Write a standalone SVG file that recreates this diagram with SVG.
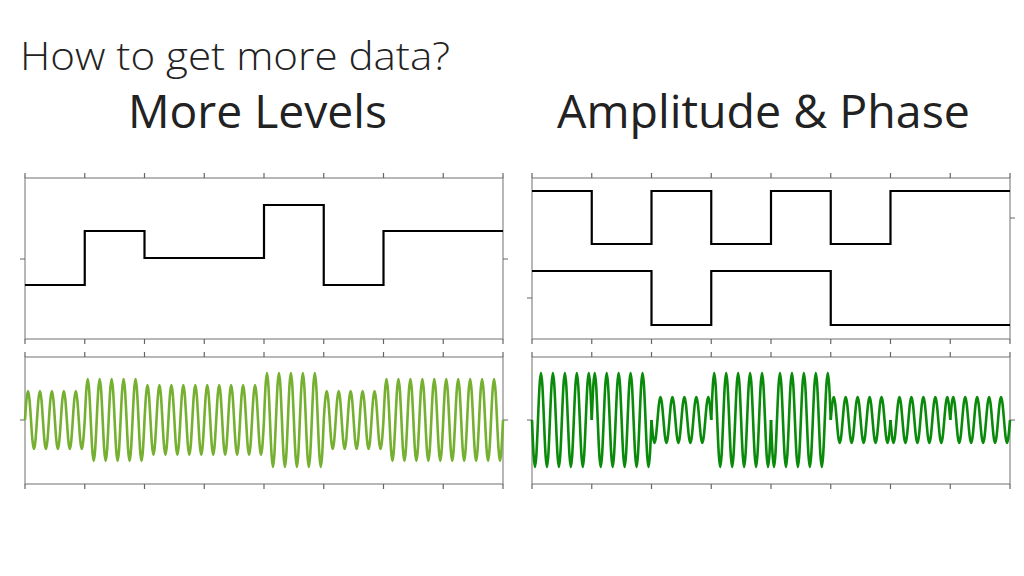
<svg xmlns="http://www.w3.org/2000/svg" xmlns:xlink="http://www.w3.org/1999/xlink" width="1024" height="576" viewBox="0 0 1024 576">
<style>
.frame{fill:none;stroke:#888;stroke-width:1.2}
.tick{fill:none;stroke:#666;stroke-width:1.2}
.sq{fill:none;stroke:#000;stroke-width:2.2}
.gl{fill:none;stroke:#76B031;stroke-width:2.6}
.gr{fill:none;stroke:#0A8A0A;stroke-width:2.6}
.t{font-family:"Open Sans","Liberation Sans",sans-serif;fill:#222}
</style>
<defs>
<path id="seg" vector-effect="non-scaling-stroke" d="M0,0 c0.978,-0.512 1.915,-1 3,-1 c1.085,0 2.022,0.488 3,1 c0.978,0.512 1.915,1 3,1 c1.085,0 2.022,-0.488 3,-1 c0.978,-0.512 1.915,-1 3,-1 c1.085,0 2.022,0.488 3,1 c0.978,0.512 1.915,1 3,1 c1.085,0 2.022,-0.488 3,-1 c0.978,-0.512 1.915,-1 3,-1 c1.085,0 2.022,0.488 3,1 c0.978,0.512 1.915,1 3,1 c1.085,0 2.022,-0.488 3,-1 c0.978,-0.512 1.915,-1 3,-1 c1.085,0 2.022,0.488 3,1 c0.978,0.512 1.915,1 3,1 c1.085,0 2.022,-0.488 3,-1 c0.978,-0.512 1.915,-1 3,-1 c1.085,0 2.022,0.488 3,1 c0.978,0.512 1.915,1 3,1 c1.085,0 2.022,-0.488 3,-1"/>
</defs>
<text class="t" x="20" y="70" font-size="38" font-weight="300" textLength="430" lengthAdjust="spacingAndGlyphs">How to get more data?</text>
<text class="t" x="128" y="128" font-size="45" textLength="259" lengthAdjust="spacingAndGlyphs">More Levels</text>
<text class="t" x="557" y="128" font-size="45" textLength="413" lengthAdjust="spacingAndGlyphs">Amplitude &amp; Phase</text>

<g id="left-top">
<rect class="frame" x="25" y="178" width="478" height="161"/>
<path class="tick" d="M25,173V178M84.75,173V178M144.5,173V178M204.25,173V178M264,173V178M323.75,173V178M383.5,173V178M443.25,173V178M503,173V178M25,339V344M84.75,339V344M144.5,339V344M204.25,339V344M264,339V344M323.75,339V344M383.5,339V344M443.25,339V344M503,339V344M20,259H25M503,259H508"/>
<path class="sq" d="M25,285H84.75V231H144.5V258H264V205H323.75V285H383.5V231H503"/>
</g>
<g id="left-bottom">
<rect class="frame" x="25" y="357" width="478" height="127"/>
<path class="tick" d="M25,352V357M84.75,352V357M144.5,352V357M204.25,352V357M264,352V357M323.75,352V357M383.5,352V357M443.25,352V357M503,352V357M25,484V489M84.75,484V489M144.5,484V489M204.25,484V489M264,484V489M323.75,484V489M383.5,484V489M443.25,484V489M503,484V489M20,420H25M503,420H508"/>
<g class="gl">
<use xlink:href="#seg" transform="translate(25,420) scale(0.996,29)"/>
<use xlink:href="#seg" transform="translate(84.75,420) scale(0.996,41)"/>
<use xlink:href="#seg" transform="translate(144.5,420) scale(0.996,35)"/>
<use xlink:href="#seg" transform="translate(204.25,420) scale(0.996,35)"/>
<use xlink:href="#seg" transform="translate(264,420) scale(0.996,47)"/>
<use xlink:href="#seg" transform="translate(323.75,420) scale(0.996,29)"/>
<use xlink:href="#seg" transform="translate(383.5,420) scale(0.996,41)"/>
<use xlink:href="#seg" transform="translate(443.25,420) scale(0.996,41)"/>
</g>
</g>

<g id="right-top">
<rect class="frame" x="532" y="178" width="478" height="161"/>
<path class="tick" d="M532,173V178M591.75,173V178M651.5,173V178M711.25,173V178M771,173V178M830.75,173V178M890.5,173V178M950.25,173V178M1010,173V178M532,339V344M591.75,339V344M651.5,339V344M711.25,339V344M771,339V344M830.75,339V344M890.5,339V344M950.25,339V344M1010,339V344M527,298H532M1010,218H1015"/>
<path class="sq" d="M532,191H591.75V244H651.5V191H711.25V244H771V191H830.75V244H890.5V191H1010"/>
<path class="sq" d="M532,271H651.5V325H711.25V271H830.75V325H1010"/>
</g>
<g id="right-bottom">
<rect class="frame" x="532" y="357" width="478" height="127"/>
<path class="tick" d="M532,352V357M591.75,352V357M651.5,352V357M711.25,352V357M771,352V357M830.75,352V357M890.5,352V357M950.25,352V357M1010,352V357M532,484V489M591.75,484V489M651.5,484V489M711.25,484V489M771,484V489M830.75,484V489M890.5,484V489M950.25,484V489M1010,484V489M527,420H532M1010,420H1015"/>
<g class="gr">
<use xlink:href="#seg" transform="translate(532,420) scale(0.996,-47)"/>
<use xlink:href="#seg" transform="translate(591.75,420) scale(0.996,47)"/>
<use xlink:href="#seg" transform="translate(651.5,420) scale(0.996,-23)"/>
<use xlink:href="#seg" transform="translate(711.25,420) scale(0.996,47)"/>
<use xlink:href="#seg" transform="translate(771,420) scale(0.996,-47)"/>
<use xlink:href="#seg" transform="translate(830.75,420) scale(0.996,23)"/>
<use xlink:href="#seg" transform="translate(890.5,420) scale(0.996,-23)"/>
<use xlink:href="#seg" transform="translate(950.25,420) scale(0.996,23)"/>
</g>
</g>
</svg>
